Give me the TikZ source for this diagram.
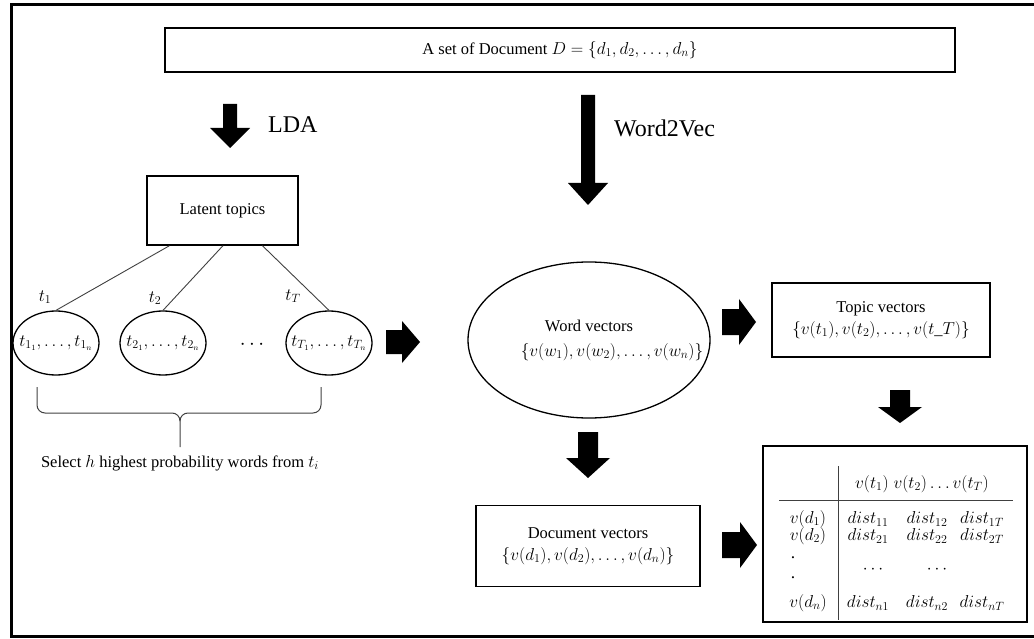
\documentclass[tikz,border=0pt]{standalone}
\usepackage{fontspec}
\setmainfont{Liberation Serif}
\usetikzlibrary{shapes.geometric,calc}

% thick block arrows: axis position, tail, tip, shaft half width, head half width, head length
\newcommand{\dnarrow}[6]{\fill (#1-#4,#2) -- (#1+#4,#2) -- (#1+#4,#3-#6) -- (#1+#5,#3-#6) -- (#1,#3) -- (#1-#5,#3-#6) -- (#1-#4,#3-#6) -- cycle;}
\newcommand{\rtarrow}[6]{\fill (#1,#2-#4) -- (#3-#6,#2-#4) -- (#3-#6,#2-#5) -- (#3,#2) -- (#3-#6,#2+#5) -- (#3-#6,#2+#4) -- (#1,#2+#4) -- cycle;}

\begin{document}
\begin{tikzpicture}[x=1pt,y=-1pt,
  box/.style={draw,line width=1.4pt,inner sep=0pt},
  oval/.style={draw,ellipse,line width=1.3pt,inner sep=0pt,minimum width=86,minimum height=64},
  txt/.style={font=\fontsize{16.5}{22}\selectfont,align=center,inner sep=0pt},
  big/.style={font=\fontsize{24}{26}\selectfont,inner sep=0pt},
  cell/.style={font=\fontsize{17.5}{20}\selectfont,inner sep=0pt},
  link/.style={draw=black!75,line width=0.9pt},
]
\useasboundingbox (0,0) rectangle (1034,639);

% outer frame, open on the right
\draw[line width=3pt] (1040,5) -- (11,5) -- (11,636) -- (1040,636);

% document set
\node[box,minimum width=790,minimum height=44] (docs) at (560,50) {};
\node[txt] (docst) at (560,50) {A set of Document $D=\{d_1,d_2,\dots,d_n\}$};

% LDA branch
\dnarrow{230}{104}{148}{7}{20}{20}
\node[big,anchor=west] (lda) at (268,125) {LDA};
\node[box,minimum width=151,minimum height=69] (lt) at (222.5,210.5) {};
\node[txt] (ltt) at (222.5,211) {Latent topics};

\node[oval] (e1) at (56,343) {};
\node[oval] (e2) at (163,343) {};
\node[oval] (e3) at (329,343) {};
\node[txt] at (e1) {$t_{1_1},\dots,t_{1_n}$};
\node[txt] at (e2) {$t_{2_1},\dots,t_{2_n}$};
\node[txt] at (e3) {$t_{T_1},\dots,t_{T_n}$};
\node[font=\fontsize{20}{22}\selectfont] (dots) at (252,345) {$\cdots$};

\node[cell] (l1) at (45,297) {$t_1$};
\node[cell] (l2) at (155,298) {$t_2$};
\node[cell] (l3) at (293,296) {$t_T$};

\draw[link] ($(lt.south west)!0.152!(lt.south east)$) -- (e1.north);
\draw[link] ($(lt.south west)!0.503!(lt.south east)$) -- (e2.north);
\draw[link] ($(lt.south west)!0.762!(lt.south east)$) -- (e3.north);

% brace under the topic word sets
\draw[black!75,line width=1pt]
  (37,387) -- (37,405) to[out=-90,in=180] (45,413) -- (172,413) to[out=0,in=90] (180,421) -- (180,447);
\draw[black!75,line width=1pt]
  (321,387) -- (321,405) to[out=-90,in=0] (313,413) -- (188,413) to[out=180,in=90] (180,421);
\node[txt] (sel) at (180,463) {Select $h$ highest probability words from $t_i$};

\rtarrow{386}{342}{420}{12}{21}{18}

% Word2Vec branch
\dnarrow{588}{95}{205}{7}{20}{22}
\node[big,anchor=west] (w2v) at (614,128) {Word2Vec};

\node[draw,ellipse,line width=1.3pt,minimum width=242,minimum height=156] (wv) at (589,340) {};
\node[txt] (wvt) at (589,326) {Word vectors};
\node[txt] (wvs) at (612,352) {$\{v(w_1),v(w_2),\dots,v(w_n)\}$};

\rtarrow{722}{322}{756}{13}{23}{17}

\node[box,minimum width=218,minimum height=74] (tv) at (881,320) {};
\node[txt] (tvt) at (881,320) {Topic vectors\\$\{v(t_1),v(t_2),\dots,v(t\_T)\}$};

\dnarrow{900}{390}{423}{10}{22}{16}

\dnarrow{588}{432}{478}{10}{22}{20}
\node[box,minimum width=224,minimum height=81] (dv) at (588,546) {};
\node[txt] (dvt) at (588,546) {Document vectors\\$\{v(d_1),v(d_2),\dots,v(d_n)\}$};

\rtarrow{722}{545}{757}{13}{23}{17}

% distance table
\node[box,minimum width=264,minimum height=176] (tab) at (895,534) {};
\coordinate (vt) at (838,466);
\coordinate (vb) at (838,620);
\coordinate (hl) at (779,500);
\coordinate (hr) at (1013,500);
\draw[link] (vt) -- (vb);
\draw[link] (hl) -- (hr);
\node[cell] (hd) at (922,484) {$v(t_1)\;v(t_2)\dots v(t_T)$};
\node[cell] (r1) at (808,519) {$v(d_1)$};
\node[cell] (r2) at (808,536) {$v(d_2)$};
\node[cell] (rd1) at (793,558) {.};
\node[cell] (rd2) at (793,578) {.};
\node[cell] (rn) at (808,603) {$v(d_n)$};
\node[cell] (c11) at (868,519) {$dist_{11}$};
\node[cell] (c12) at (927,519) {$dist_{12}$};
\node[cell] (c13) at (982,519) {$dist_{1T}$};
\node[cell] (c21) at (868,536) {$dist_{21}$};
\node[cell] (c22) at (927,536) {$dist_{22}$};
\node[cell] (c23) at (982,536) {$dist_{2T}$};
\node[cell] (m1) at (873,570) {$\cdots$};
\node[cell] (m2) at (937,570) {$\cdots$};
\node[cell] (cn1) at (868,603) {$dist_{n1}$};
\node[cell] (cn2) at (927,603) {$dist_{n2}$};
\node[cell] (cn3) at (982,603) {$dist_{nT}$};
\end{tikzpicture}
\end{document}
